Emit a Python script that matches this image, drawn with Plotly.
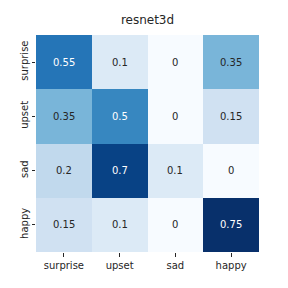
import plotly.graph_objects as go

labels = ["surprise", "upset", "sad", "happy"]
matrix = [
    [0.55, 0.1, 0, 0.35],
    [0.35, 0.5, 0, 0.15],
    [0.2, 0.7, 0.1, 0],
    [0.15, 0.1, 0, 0.75],
]
title = "resnet3d"

zmax = max(max(r) for r in matrix)
fig = go.Figure(go.Heatmap(
    z=matrix, x=labels, y=labels, colorscale="Blues", zmin=0, zmax=zmax,
    showscale=False, xgap=0, ygap=0, hoverinfo="skip"))

for i, row in enumerate(matrix):
    for j, v in enumerate(row):
        fig.add_annotation(x=labels[j], y=labels[i], text=f"{v:g}", showarrow=False,
                           font=dict(size=10, color="white" if v / zmax > 0.6 else "#262626",
                                     family="DejaVu Sans"))

fig.update_layout(
    width=288, height=288, margin=dict(l=36, r=29, t=35, b=36, autoexpand=False),
    paper_bgcolor="white", plot_bgcolor="white",
    title=dict(text=title, x=0.5, xanchor="center", xref="paper", y=1 - 20 / 288, yanchor="middle",
               automargin=False,
               font=dict(size=12, color="#262626", family="DejaVu Sans")),
    font=dict(family="DejaVu Sans", size=10, color="#262626"),
)
fig.update_xaxes(ticks="outside", ticklen=3.5, tickcolor="#262626", showgrid=False, zeroline=False,
                 showline=False, automargin=False)
fig.update_yaxes(ticks="outside", ticklen=3.5, tickcolor="#262626", showgrid=False, zeroline=False,
                 showline=False, autorange="reversed", tickangle=-90, automargin=False)
fig.write_html("out.html", config={"displayModeBar": False},
               post_script="document.body.style.margin='0';document.body.style.padding='0';"
                           "document.body.style.overflow='hidden';")
